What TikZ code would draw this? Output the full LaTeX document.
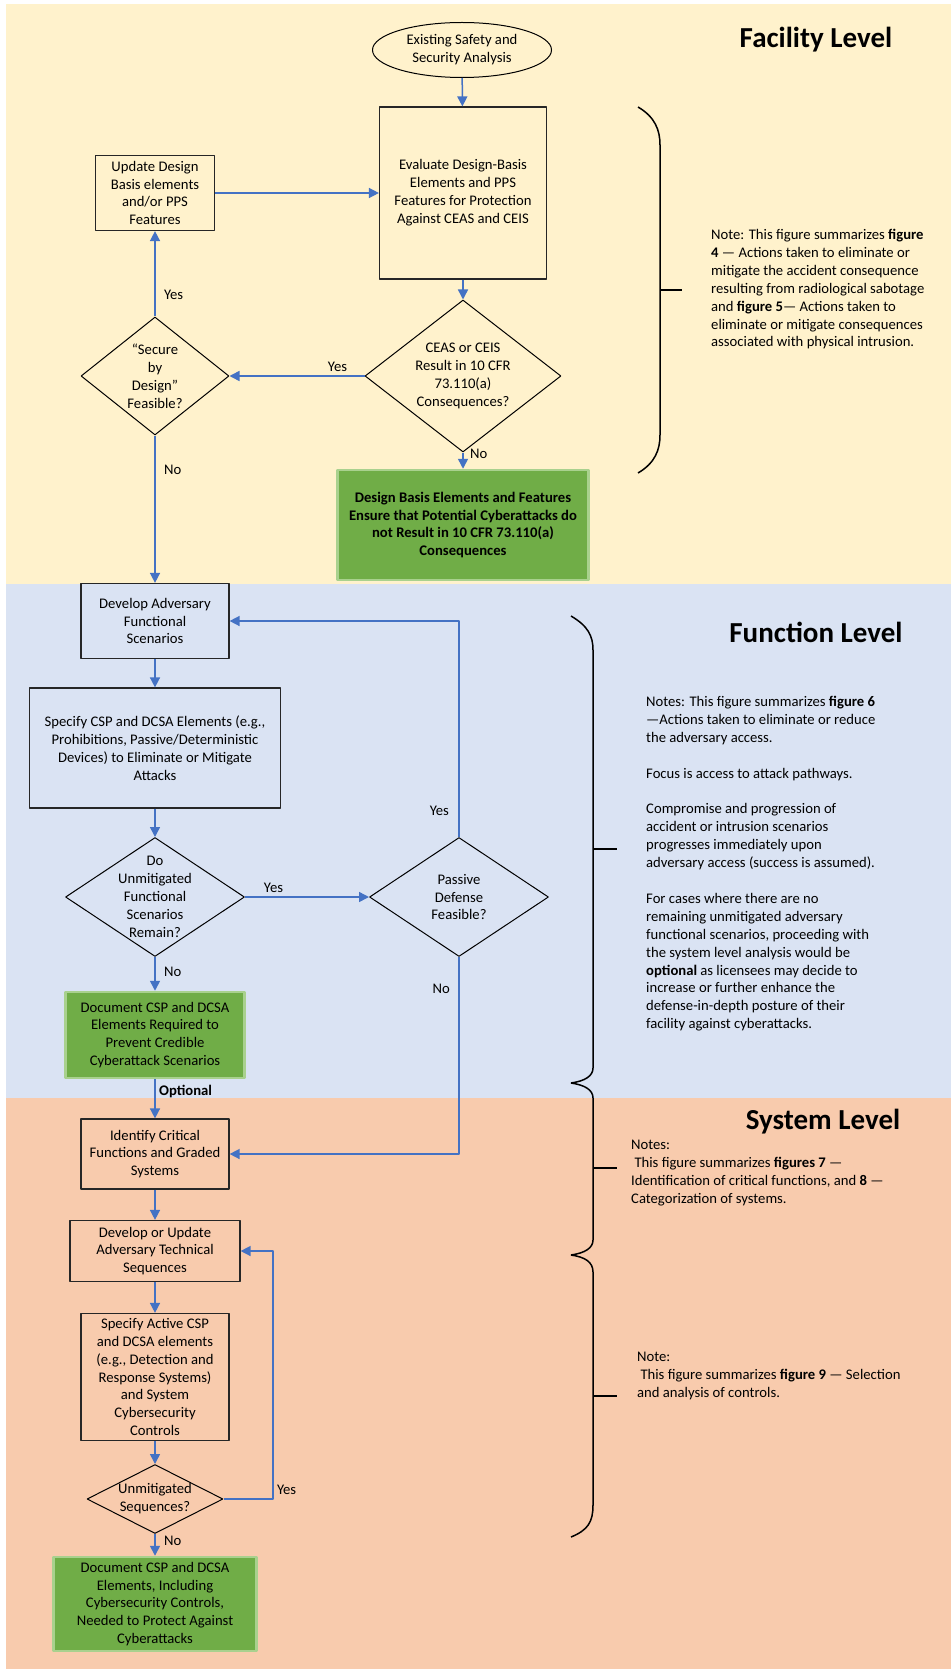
\documentclass[tikz,border=0pt]{standalone}
\usepackage{fontspec}
\setmainfont{Carlito}
\usetikzlibrary{shapes.geometric,arrows.meta}
\definecolor{facilitybg}{HTML}{FFF2CC}
\definecolor{functionbg}{HTML}{DAE3F3}
\definecolor{systembg}{HTML}{F8CBAD}
\definecolor{flowblue}{HTML}{4472C4}
\definecolor{donegreen}{HTML}{70AD47}
\definecolor{doneedge}{HTML}{A9D18E}
\begin{document}
\begin{tikzpicture}[x=1pt,y=-1pt,line join=bevel]
  \tikzstyle{every node}=[font=\fontsize{14.67}{17.9}\selectfont]
  \tikzstyle{proc}=[draw=black!85,line width=1.2pt,align=center,inner sep=2pt]
  \tikzstyle{done}=[draw=doneedge,line width=2.5pt,fill=donegreen,align=center,inner sep=2pt]
  \tikzstyle{decision}=[diamond,draw=black,line width=1pt,inner sep=0pt]
  \tikzstyle{flowline}=[draw=flowblue,line width=1.5pt,-{Triangle[length=10pt,width=10pt]}]
  \tikzstyle{braceline}=[draw=black,line width=1.5pt]
  \tikzstyle{leveltitle}=[font=\fontsize{29}{34}\selectfont\bfseries]
  \tikzstyle{notetext}=[anchor=north west,align=left,inner sep=0pt]
  \useasboundingbox (0,0) rectangle (951,1669);
  \fill[facilitybg] (6,4) rectangle (951,584);
  \fill[functionbg] (6,584) rectangle (951,1098);
  \fill[systembg] (6,1098) rectangle (951,1669);
  \node[leveltitle] (facility) at (816,40) {Facility Level};
  \node[leveltitle] (function) at (816,632) {Function Level};
  \node[leveltitle] (system) at (823,1122) {System Level};
  \node[ellipse, draw, line width=1pt, minimum width=179pt, minimum height=55pt, align=center] (start) at (462,50) {Existing Safety and\\Security Analysis};
  \node[proc, minimum width=167pt, minimum height=172pt] (evaluate) at (463,193) {Evaluate Design-Basis\\Elements and PPS\\Features for Protection\\Against CEAS and CEIS};
  \node[proc, minimum width=119pt, minimum height=75pt] (update) at (155,193) {Update Design\\Basis elements\\and/or PPS\\Features};
  \node[decision, minimum width=196pt, minimum height=152pt, label={[align=center]center:{CEAS or CEIS\\Result in 10 CFR\\73.110(a)\\Consequences?}}] (ceas) at (463,376) {};
  \node[decision, minimum width=148pt, minimum height=118pt, label={[align=center]center:{“Secure\\by\\Design”\\Feasible?}}] (secure) at (155,376) {};
  \node[done, minimum width=251pt, minimum height=110pt, font=\fontsize{14.67}{17.9}\selectfont\bfseries] (designok) at (463,525) {Design Basis Elements and Features\\Ensure that Potential Cyberattacks do\\not Result in 10 CFR 73.110(a)\\Consequences};
  \node[proc, minimum width=148pt, minimum height=75pt] (scenarios) at (155,621) {Develop Adversary\\Functional\\Scenarios};
  \node[proc, minimum width=251pt, minimum height=120pt] (specify) at (155,748) {Specify CSP and DCSA Elements (e.g.,\\Prohibitions, Passive/Deterministic\\Devices) to Eliminate or Mitigate\\Attacks};
  \node[decision, minimum width=179pt, minimum height=119pt, label={[align=center]center:{Do\\Unmitigated\\Functional\\Scenarios\\Remain?}}] (remain) at (155,897) {};
  \node[decision, minimum width=179pt, minimum height=119pt, label={[align=center]center:{Passive\\Defense\\Feasible?}}] (passive) at (459,897) {};
  \node[done, minimum width=179pt, minimum height=86pt] (docfunction) at (155,1035) {Document CSP and DCSA\\Elements Required to\\Prevent Credible\\Cyberattack Scenarios};
  \node[proc, minimum width=148pt, minimum height=70pt] (identify) at (155,1154) {Identify Critical\\Functions and Graded\\Systems};
  \node[proc, minimum width=170pt, minimum height=61pt] (sequences) at (155,1251) {Develop or Update\\Adversary Technical\\Sequences};
  \node[proc, minimum width=148pt, minimum height=127pt] (active) at (155,1377) {Specify Active CSP\\and DCSA elements\\(e.g., Detection and\\Response Systems)\\and System\\Cybersecurity\\Controls};
  \node[decision, minimum width=136pt, minimum height=69pt, label={[align=center]center:{Unmitigated\\Sequences?}}] (unmit) at (155,1499) {};
  \node[done, minimum width=203pt, minimum height=94pt] (docsystem) at (155,1604) {Document CSP and DCSA\\Elements, Including\\Cybersecurity Controls,\\Needed to Protect Against\\Cyberattacks};
  \coordinate (loopback) at (273,1499);
  \draw[flowline] (start) -- (evaluate);
  \draw[flowline] (update) -- (evaluate);
  \draw[flowline] (evaluate) -- (ceas);
  \draw[flowline] (ceas) -- node[pos=0.2,above] {Yes} (secure);
  \draw[flowline] (secure) -- node[pos=0.25,right,xshift=5pt] {Yes} (update);
  \draw[flowline] (ceas) -- node[pos=0.1,right,xshift=3pt] {No} (designok);
  \draw[flowline] (secure) -- node[pos=0.23,right,xshift=5pt] {No} (scenarios);
  \draw[flowline] (scenarios) -- (specify);
  \draw[flowline] (specify) -- (remain);
  \draw[flowline] (remain) -- node[pos=0.23,above] {Yes} (passive);
  \draw[flowline] (passive) |- node[pos=0.06,left,xshift=-6pt] {Yes} (scenarios);
  \draw[flowline] (remain) -- node[pos=0.43,right,xshift=5pt] {No} (docfunction);
  \draw[flowline] (docfunction) -- node[pos=0.32,right] {\textbf{Optional}} (identify);
  \draw[flowline] (passive) |- node[pos=0.08,left,xshift=-5pt] {No} (identify);
  \draw[flowline] (identify) -- (sequences);
  \draw[flowline] (sequences) -- (active);
  \draw[flowline] (active) -- (unmit);
  \draw[flowline] (unmit) -- node[pos=0.33,right,xshift=5pt] {No} (docsystem);
  \draw[flowline] (unmit) -- (loopback) node[above right] {Yes} |- (sequences);
  \draw[braceline] (638,107) .. controls (655,117) and (660,130) .. (660,145) -- (660,435) .. controls (660,450) and (655,463) .. (638,473);
  \draw[braceline] (660,290) -- (682,290);
  \draw[braceline] (571,616) .. controls (588,626) and (593,636) .. (593,650) -- (593,1068) .. controls (593,1076) and (585,1081) .. (571,1083);
  \draw[braceline] (571,1083) .. controls (585,1085) and (593,1090) .. (593,1098) -- (593,1240) .. controls (593,1248) and (585,1253) .. (571,1255);
  \draw[braceline] (571,1255) .. controls (585,1257) and (593,1262) .. (593,1272) -- (593,1505) .. controls (593,1522) and (588,1530) .. (571,1537);
  \draw[braceline] (593,849) -- (617,849);
  \draw[braceline] (593,1168) -- (617,1168);
  \draw[braceline] (593,1396) -- (617,1396);
  \node[notetext] (facilitynote) at (711,229) {Note: This figure summarizes \textbf{figure}\\\textbf{4} — Actions taken to eliminate or\\mitigate the accident consequence\\resulting from radiological sabotage\\and \textbf{figure 5}— Actions taken to\\eliminate or mitigate consequences\\associated with physical intrusion.};
  \node[notetext] (functionnote) at (646,696) {Notes: This figure summarizes \textbf{figure 6}\\—Actions taken to eliminate or reduce\\the adversary access.\\[17.9pt]Focus is access to attack pathways.\\[17.9pt]Compromise and progression of\\accident or intrusion scenarios\\progresses immediately upon\\adversary access (success is assumed).\\[17.9pt]For cases where there are no\\remaining unmitigated adversary\\functional scenarios, proceeding with\\the system level analysis would be\\\textbf{optional} as licensees may decide to\\increase or further enhance the\\defense-in-depth posture of their\\facility against cyberattacks.};
  \node[notetext] (systemnote) at (631,1140) {Notes:\\\ This figure summarizes \textbf{figures 7} —\\Identification of critical functions, and \textbf{8} —\\Categorization of systems.};
  \node[notetext] (controlnote) at (637,1352) {Note:\\\ This figure summarizes \textbf{figure 9} — Selection\\and analysis of controls.};
\end{tikzpicture}
\end{document}
